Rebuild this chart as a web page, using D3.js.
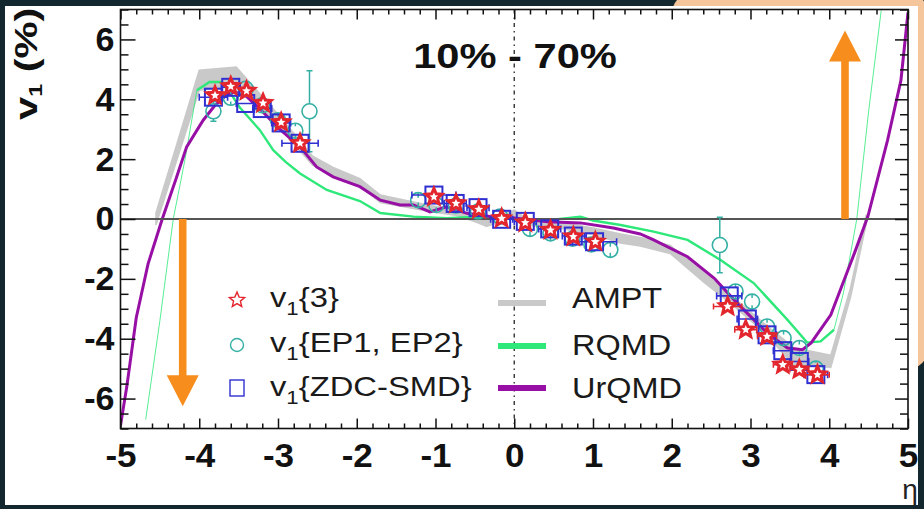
<!DOCTYPE html>
<html><head><meta charset="utf-8">
<script src="https://cdn.jsdelivr.net/npm/d3@7"></script>
<style>html,body{margin:0;padding:0;background:#13282e;}svg{display:block;}</style>
</head><body>
<svg id="chart" width="924" height="509"></svg>
<script>
// ---------- data ----------
const xTicks = [-5,-4,-3,-2,-1,0,1,2,3,4,5];
const xTickLabels = ["-5","-4","-3","-2","-1","0","1","2","3","4","5"];
const yTicks = [-6,-4,-2,0,2,4,6];
const yTickLabels = ["-6","-4","-2","0","2","4","6"];
const titleText = "10% - 70%";
const xAxisTitle = "η";

// v1{3} (stars)
const etaV3 = [-3.80,-3.60,-3.40,-3.19,-2.96,-2.72,-1.02,-0.74,-0.45,-0.16,0.14,0.46,0.75,1.03,2.71,2.94,3.21,3.41,3.62,3.85];
const v3    = [4.13,4.43,4.28,3.87,3.23,2.53,0.74,0.52,0.32,0.02,-0.12,-0.37,-0.59,-0.76,-2.92,-3.70,-3.92,-4.87,-5.03,-5.20];
const xErrV3= [0,0,0,0,0,0,0,0,0,0,0,0,0,0,0.18,0.14,0.12,0.12,0.12,0.15];

// v1{EP1, EP2} (circles)
const etaEP = [-3.82,-3.60,-3.41,-3.20,-3.00,-2.78,-2.60,-1.22,-0.99,-0.74,-0.46,-0.18,0.20,0.46,0.74,0.98,1.22,2.61,2.81,3.02,3.21,3.42,3.62,3.83];
const vEP   = [3.60,4.05,4.35,3.80,3.30,2.95,3.60,0.63,0.47,0.45,0.25,0.08,-0.33,-0.48,-0.66,-0.85,-1.03,-0.87,-2.42,-2.76,-3.59,-3.98,-4.31,-5.00];
const yErrEP= [0.33,0.12,0.12,0.12,0.12,0.15,1.35,0.08,0.08,0.08,0.08,0.08,0.08,0.08,0.08,0.08,0.1,0.93,0.12,0.12,0.12,0.12,0.12,0.2];

// v1{ZDC-SMD} (squares)
const etaZDC = [-3.82,-3.60,-3.41,-3.20,-2.96,-2.72,-1.02,-0.75,-0.46,-0.16,0.14,0.45,0.75,1.02,2.73,2.96,3.21,3.41,3.62,3.83];
const vZDC   = [4.07,4.40,3.86,3.69,3.21,2.53,0.80,0.52,0.38,-0.01,-0.08,-0.33,-0.57,-0.76,-2.57,-3.34,-3.87,-4.40,-4.76,-5.20];
const xErrZDC= [0.18,0.12,0.12,0.12,0.12,0.23,0.28,0.14,0.14,0.14,0.14,0.14,0.14,0.28,0.16,0.13,0.12,0.12,0.12,0.15];

// AMPT band
const amptEta = [-4.55,-4.00,-3.53,-3.27,-3.00,-2.56,-2.30,-1.96,-1.70,-1.07,-0.73,-0.47,-0.35,-0.14,0.00,0.16,0.60,1.00,1.35,1.60,1.98,2.41,2.75,3.20,3.55,4.02,4.27,4.47];
const amptLo  = [-0.20,4.30,4.45,3.90,3.10,1.80,1.45,1.10,0.55,0.25,0.12,-0.12,-0.25,-0.05,0.08,-0.20,-0.32,-0.52,-0.80,-0.90,-1.15,-2.12,-2.82,-3.85,-4.90,-4.95,-2.62,-0.15];
const amptHi  = [0.20,4.97,5.08,4.30,3.50,2.10,1.72,1.35,0.80,0.45,0.32,0.05,-0.05,0.15,0.30,0.00,-0.12,-0.30,-0.50,-0.62,-0.88,-1.80,-2.55,-3.55,-4.30,-4.55,-2.30,0.15];

// RQMD
const rqmdEta = [-4.68,-4.50,-4.33,-4.18,-4.03,-3.87,-3.73,-3.60,-3.49,-3.23,-3.06,-2.90,-2.72,-2.38,-1.96,-1.70,-1.28,-0.86,-0.44,0.00,0.40,0.84,1.00,1.35,1.77,2.20,2.62,3.04,3.47,3.72,3.89,4.06,4.18,4.35,4.50,4.66];
const rqmdV   = [-6.70,-3.40,0.00,2.00,4.30,4.58,4.58,4.20,3.74,2.97,2.30,1.90,1.52,0.97,0.60,0.20,0.08,0.03,0.08,0.00,-0.05,0.08,-0.05,-0.20,-0.42,-0.70,-1.37,-2.14,-3.37,-4.13,-4.09,-3.70,-2.47,0.00,3.60,6.97];

// UrQMD
const urqmdEta = [-5.00,-4.92,-4.80,-4.65,-4.47,-4.30,-4.16,-3.95,-3.80,-3.65,-3.55,-3.40,-3.20,-3.00,-2.72,-2.51,-2.30,-1.96,-1.70,-1.45,-1.28,-1.07,-0.86,-0.60,-0.31,0.00,0.42,0.84,1.26,1.60,1.77,2.20,2.54,2.83,3.21,3.47,3.66,3.77,4.02,4.19,4.32,4.49,4.74,4.91,5.00];
const urqmdV   = [-6.90,-5.60,-3.30,-1.50,0.00,1.30,2.41,3.30,3.80,4.15,4.25,4.10,3.60,3.05,2.41,1.74,1.41,1.08,0.63,0.47,0.47,0.24,0.41,0.19,0.08,0.03,-0.09,-0.13,-0.30,-0.50,-0.70,-1.26,-1.98,-2.81,-3.81,-4.31,-4.37,-4.14,-3.20,-2.03,-1.14,0.08,2.63,4.63,6.90];

// orange arrows
const arrowEta = [-4.21, 4.20];
const arrowTip = [-6.26, 6.30];

const legendData = ["{3}", "{EP1, EP2}", "{ZDC-SMD}"];
const legendModels = ["AMPT", "RQMD", "UrQMD"];

// ---------- style ----------
const C = {star:"#e3262e", circle:"#34b0a4", square:"#2f2fd2", ampt:"#c9c9c9", rqmd:"#2ee879", urqmd:"#970fa4", orange:"#f78d1c", dark:"#13282e", peach:"#f5c69c"};
const FONT = "'Liberation Sans', Arial, Helvetica, sans-serif";

const svg = d3.select("#chart");
svg.append("rect").attr("width",924).attr("height",509).attr("fill",C.dark);
svg.append("rect").attr("x",672).attr("y",-8).attr("width",256).attr("height",378).attr("rx",22).attr("fill",C.peach);
svg.append("rect").attr("x",5).attr("y",6).attr("width",913).attr("height",499).attr("fill","#fff");

const x = d3.scaleLinear().domain([-5,5]).range([120.5,908]);
const y = d3.scaleLinear().domain([-7,7]).range([428.5,9.5]);

function stretch(sel,k){ sel.each(function(){ const t=d3.select(this); const xx=+t.attr("x")||0; t.attr("transform",`translate(${xx*(1-k)},0) scale(${k},1)`); }); }

svg.append("defs").append("clipPath").attr("id","clip").append("rect")
  .attr("x",x(-5)).attr("y",y(7)).attr("width",x(5)-x(-5)).attr("height",y(-7)-y(7));
const plot = svg.append("g").attr("clip-path","url(#clip)");

// vertical dashed line at eta = 0
plot.append("line").attr("x1",x(0)).attr("x2",x(0)).attr("y1",y(7)).attr("y2",y(-7))
  .attr("stroke","#333").attr("stroke-width",1.4).attr("stroke-dasharray","4,4,1.5,4");

// AMPT band
const amptRows = amptEta.map((e,i)=>({e,lo:amptLo[i],hi:amptHi[i]}));
plot.append("path").datum(amptRows)
  .attr("d", d3.area().x(d=>x(d.e)).y0(d=>y(d.lo)).y1(d=>y(d.hi)))
  .attr("fill",C.ampt).attr("stroke",C.ampt).attr("stroke-width",1.5);

const line = d3.line().x(d=>x(d[0])).y(d=>y(d[1]));
const rq = rqmdEta.map((e,i)=>[e,rqmdV[i]]);
plot.append("path").datum(rq).attr("d",line).attr("fill","none").attr("stroke",C.rqmd).attr("stroke-width",1).attr("opacity",0.8);
plot.append("path").datum(rq.filter(d=>d[0]>=-4.03 && d[0]<=4.06)).attr("d",line).attr("fill","none").attr("stroke",C.rqmd).attr("stroke-width",2.4);
const ur = urqmdEta.map((e,i)=>[e,urqmdV[i]]);
plot.append("path").datum(ur).attr("d",line).attr("fill","none").attr("stroke",C.urqmd).attr("stroke-width",3);

// zero line
plot.append("line").attr("x1",x(-5)).attr("x2",x(5)).attr("y1",y(0)).attr("y2",y(0)).attr("stroke","#555").attr("stroke-width",2);

// orange arrows
arrowEta.forEach((e,i)=>{
  const cx=x(e), y0=y(0), yt=y(arrowTip[i]);
  const dir = yt<y0 ? -1 : 1, hl=31, hw=16, sw=3.8, yb=yt-dir*hl;
  plot.append("path").attr("d",`M${cx-sw},${y0}L${cx-sw},${yb}L${cx-hw},${yb}L${cx},${yt}L${cx+hw},${yb}L${cx+sw},${yb}L${cx+sw},${y0}Z`).attr("fill",C.orange);
});

function starPath(R){ const r=R*0.45; let p=""; for(let k=0;k<10;k++){ const a=-Math.PI/2+k*Math.PI/5; const rr=k%2?r:R; p+=(k?"L":"M")+(rr*Math.cos(a)).toFixed(2)+","+(rr*Math.sin(a)).toFixed(2);} return p+"Z"; }

// circles (EP)
const gEP = plot.append("g");
etaEP.forEach((e,i)=>{
  const cx=x(e), cy=y(vEP[i]), t=y(vEP[i]+yErrEP[i]), b=y(vEP[i]-yErrEP[i]);
  gEP.append("line").attr("x1",cx).attr("x2",cx).attr("y1",t).attr("y2",cy-7.5).attr("stroke",C.circle).attr("stroke-width",1.5);
  gEP.append("line").attr("x1",cx).attr("x2",cx).attr("y1",cy+7.5).attr("y2",b).attr("stroke",C.circle).attr("stroke-width",1.5);
  if(yErrEP[i]>0.3){ [t,b].forEach(yy=>gEP.append("line").attr("x1",cx-3).attr("x2",cx+3).attr("y1",yy).attr("y2",yy).attr("stroke",C.circle).attr("stroke-width",1.5)); }
  gEP.append("circle").attr("cx",cx).attr("cy",cy).attr("r",7.5).attr("fill","none").attr("stroke",C.circle).attr("stroke-width",1.6);
});

// squares (ZDC-SMD)
const gZ = plot.append("g");
etaZDC.forEach((e,i)=>{
  const cx=x(e), cy=y(vZDC[i]), l=x(e-xErrZDC[i]), r=x(e+xErrZDC[i]);
  gZ.append("line").attr("x1",l).attr("x2",r).attr("y1",cy).attr("y2",cy).attr("stroke",C.square).attr("stroke-width",1.6);
  [l,r].forEach(xx=>gZ.append("line").attr("x1",xx).attr("x2",xx).attr("y1",cy-3.5).attr("y2",cy+3.5).attr("stroke",C.square).attr("stroke-width",1.6));
  gZ.append("rect").attr("x",cx-8.5).attr("y",cy-8.5).attr("width",17).attr("height",17).attr("fill","none").attr("stroke",C.square).attr("stroke-width",2);
});

// stars (v1{3})
const gS = plot.append("g");
etaV3.forEach((e,i)=>{
  const cx=x(e), cy=y(v3[i]);
  if(xErrV3[i]>0){ const l=x(e-xErrV3[i]), r=x(e+xErrV3[i]);
    gS.append("line").attr("x1",l).attr("x2",r).attr("y1",cy).attr("y2",cy).attr("stroke",C.star).attr("stroke-width",1.5);
    [l,r].forEach(xx=>gS.append("line").attr("x1",xx).attr("x2",xx).attr("y1",cy-3).attr("y2",cy+3).attr("stroke",C.star).attr("stroke-width",1.5)); }
  gS.append("path").attr("d",starPath(8.5)).attr("transform",`translate(${cx},${cy})`).attr("fill","#fff").attr("stroke",C.star).attr("stroke-width",3);
});

// ---------- axes ----------
const xMinor = d3.range(-5,5.001,0.2).filter(v=>Math.abs(v-Math.round(v))>1e-6);
const yMinor = d3.range(-7,7.001,0.5).filter(v=>!yTicks.some(t=>Math.abs(t-v)<1e-6));
function styleAxis(g){ g.select(".domain").remove(); g.selectAll("line").attr("stroke","#111").attr("stroke-width",1.5); }
const yb = y(-7), yt = y(7), xl = x(-5), xr = x(5);
const axB = svg.append("g").attr("transform",`translate(0,${yb})`)
  .call(d3.axisBottom(x).tickValues(xTicks).tickSize(-10).tickPadding(14).tickFormat((d,i)=>xTickLabels[i]));
styleAxis(axB);
axB.attr("font-size",34).attr("font-family",FONT).attr("font-weight","bold");
axB.selectAll("text").attr("fill","#111"); stretch(axB.selectAll("text"),1.03);
svg.append("g").attr("transform",`translate(0,${yb})`).call(d3.axisBottom(x).tickValues(xMinor).tickSize(-5).tickFormat("")).call(styleAxis);
svg.append("g").attr("transform",`translate(0,${yt})`).call(d3.axisTop(x).tickValues(xTicks).tickSize(-10).tickFormat("")).call(styleAxis);
svg.append("g").attr("transform",`translate(0,${yt})`).call(d3.axisTop(x).tickValues(xMinor).tickSize(-5).tickFormat("")).call(styleAxis);

const axL = svg.append("g").attr("transform",`translate(${xl},0)`)
  .call(d3.axisLeft(y).tickValues(yTicks).tickSize(-15).tickPadding(6).tickFormat((d,i)=>yTickLabels[i]));
styleAxis(axL);
axL.attr("font-size",34).attr("font-family",FONT).attr("font-weight","bold");
axL.selectAll("text").attr("fill","#111");
svg.append("g").attr("transform",`translate(${xl},0)`).call(d3.axisLeft(y).tickValues(yMinor).tickSize(-8).tickFormat("")).call(styleAxis);
svg.append("g").attr("transform",`translate(${xr},0)`).call(d3.axisRight(y).tickValues(yTicks).tickSize(-13).tickFormat("")).call(styleAxis);
svg.append("g").attr("transform",`translate(${xr},0)`).call(d3.axisRight(y).tickValues(yMinor).tickSize(-8).tickFormat("")).call(styleAxis);

// frame
svg.append("rect").attr("x",xl).attr("y",yt).attr("width",xr-xl).attr("height",yb-yt).attr("fill","none").attr("stroke","#111").attr("stroke-width",1.6);

// title
const tt = svg.append("text").attr("x",515).attr("y",68).attr("text-anchor","middle")
  .attr("font-family",FONT).attr("font-weight","bold").attr("font-size",35).attr("fill","#111").text(titleText);
stretch(tt,1.19);

// y axis title
const yl = svg.append("g").attr("transform","translate(37,120) rotate(-90)")
  .append("text").attr("x",0).attr("y",0).attr("font-family",FONT).attr("font-weight","bold").attr("font-size",32).attr("fill","#111");
yl.append("tspan").text("v");
yl.append("tspan").attr("font-size",18).attr("dy",5).text("1");
yl.append("tspan").attr("dy",-5).text(" (%)");
yl.attr("transform","scale(1.3,1)");

// x axis title
svg.append("text").attr("x",910).attr("y",499).attr("text-anchor","middle").attr("font-family",FONT)
  .attr("font-size",28).attr("fill","#222").text(xAxisTitle);

// ---------- legend ----------
const legY = [300,345,388], legBase=[307,352,396];
const lg = svg.append("g");
lg.append("path").attr("d",starPath(8)).attr("transform",`translate(237,${legY[0]})`).attr("fill","none").attr("stroke",C.star).attr("stroke-width",1.4);
lg.append("circle").attr("cx",237).attr("cy",legY[1]).attr("r",6.5).attr("fill","none").attr("stroke",C.circle).attr("stroke-width",1.4);
lg.append("rect").attr("x",230).attr("y",legY[2]-8).attr("width",14).attr("height",16).attr("fill","none").attr("stroke",C.square).attr("stroke-width",1.4);
legendData.forEach((s,i)=>{
  const t = lg.append("text").attr("x",270).attr("y",legBase[i]).attr("font-family",FONT).attr("font-size",28).attr("fill","#1a1a1a");
  t.append("tspan").text("v");
  t.append("tspan").attr("font-size",19).attr("dy",8).text("1");
  t.append("tspan").attr("dy",-8).text(s);
  stretch(t,1.17);
});
const modelCol = [C.ampt, C.rqmd, C.urqmd], modelY=[303,346,388], modelBase=[308,355,398];
legendModels.forEach((s,i)=>{
  lg.append("line").attr("x1",498).attr("x2",546).attr("y1",modelY[i]).attr("y2",modelY[i]).attr("stroke",modelCol[i]).attr("stroke-width",6);
  const t = lg.append("text").attr("x",572).attr("y",modelBase[i]).attr("font-family",FONT).attr("font-size",29).attr("fill","#1a1a1a").text(s);
  stretch(t,1.12);
});
</script>
</body></html>
